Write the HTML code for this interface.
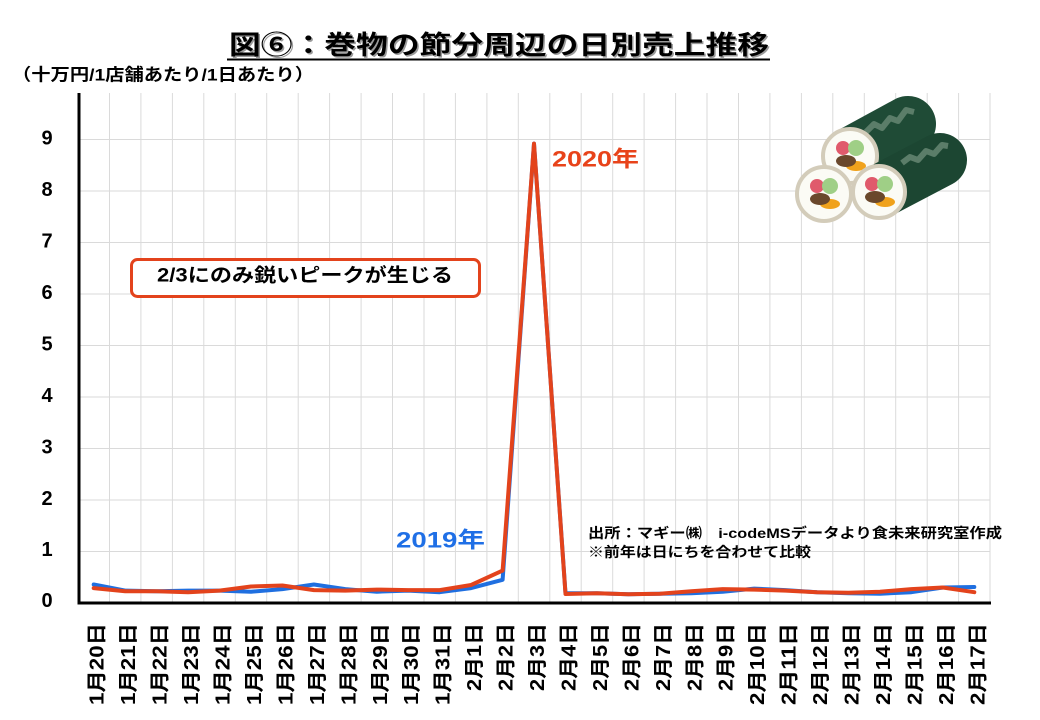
<!DOCTYPE html>
<html>
<head>
<meta charset="utf-8">
<style>
  html, body { margin:0; padding:0; background:#ffffff; }
  body { width:1040px; height:720px; overflow:hidden; }
  svg { display:block; }
  text { font-family: "Liberation Sans", "Noto Sans CJK JP", sans-serif; font-weight: bold; }
</style>
</head>
<body>
<svg width="1040" height="720" viewBox="0 0 1040 720" xmlns="http://www.w3.org/2000/svg">
  <rect x="0" y="0" width="1040" height="720" fill="#ffffff"/>

  <!-- Title -->
  <text x="230.5" y="46.5" font-size="26" fill="#9a9a9a" dominant-baseline="central" textLength="540" lengthAdjust="spacingAndGlyphs">図⑥：巻物の節分周辺の日別売上推移</text>
  <text x="229" y="45" font-size="26" fill="#000" dominant-baseline="central" textLength="540" lengthAdjust="spacingAndGlyphs">図⑥：巻物の節分周辺の日別売上推移</text>
  <line x1="227" y1="59.5" x2="770" y2="59.5" stroke="#000" stroke-width="2"/>

  <!-- Unit label -->
  <text x="12" y="75" font-size="17" fill="#000" dominant-baseline="central" textLength="302" lengthAdjust="spacingAndGlyphs">（十万円/1店舗あたり/1日あたり）</text>

  <!-- Grid -->
  <g stroke="#dadada" stroke-width="1">
    <line x1="109.5" y1="93" x2="109.5" y2="603"/>
    <line x1="140.9" y1="93" x2="140.9" y2="603"/>
    <line x1="172.4" y1="93" x2="172.4" y2="603"/>
    <line x1="203.8" y1="93" x2="203.8" y2="603"/>
    <line x1="235.3" y1="93" x2="235.3" y2="603"/>
    <line x1="266.7" y1="93" x2="266.7" y2="603"/>
    <line x1="298.2" y1="93" x2="298.2" y2="603"/>
    <line x1="329.6" y1="93" x2="329.6" y2="603"/>
    <line x1="361.1" y1="93" x2="361.1" y2="603"/>
    <line x1="392.5" y1="93" x2="392.5" y2="603"/>
    <line x1="424.0" y1="93" x2="424.0" y2="603"/>
    <line x1="455.4" y1="93" x2="455.4" y2="603"/>
    <line x1="486.9" y1="93" x2="486.9" y2="603"/>
    <line x1="518.3" y1="93" x2="518.3" y2="603"/>
    <line x1="549.8" y1="93" x2="549.8" y2="603"/>
    <line x1="581.2" y1="93" x2="581.2" y2="603"/>
    <line x1="612.7" y1="93" x2="612.7" y2="603"/>
    <line x1="644.1" y1="93" x2="644.1" y2="603"/>
    <line x1="675.6" y1="93" x2="675.6" y2="603"/>
    <line x1="707.0" y1="93" x2="707.0" y2="603"/>
    <line x1="738.5" y1="93" x2="738.5" y2="603"/>
    <line x1="769.9" y1="93" x2="769.9" y2="603"/>
    <line x1="801.4" y1="93" x2="801.4" y2="603"/>
    <line x1="832.8" y1="93" x2="832.8" y2="603"/>
    <line x1="864.3" y1="93" x2="864.3" y2="603"/>
    <line x1="895.7" y1="93" x2="895.7" y2="603"/>
    <line x1="927.2" y1="93" x2="927.2" y2="603"/>
    <line x1="958.6" y1="93" x2="958.6" y2="603"/>
    <line x1="990.0" y1="93" x2="990.0" y2="603"/>

    <line x1="78" y1="551.5" x2="990" y2="551.5"/>
    <line x1="78" y1="500" x2="990" y2="500"/>
    <line x1="78" y1="448.5" x2="990" y2="448.5"/>
    <line x1="78" y1="397" x2="990" y2="397"/>
    <line x1="78" y1="345.5" x2="990" y2="345.5"/>
    <line x1="78" y1="294" x2="990" y2="294"/>
    <line x1="78" y1="242.5" x2="990" y2="242.5"/>
    <line x1="78" y1="191" x2="990" y2="191"/>
    <line x1="78" y1="139.5" x2="990" y2="139.5"/>
  </g>

  <!-- Axes -->
  <line x1="79" y1="93" x2="79" y2="604.5" stroke="#000" stroke-width="3"/>
  <line x1="77.5" y1="603" x2="991" y2="603" stroke="#000" stroke-width="3"/>

  <!-- Y tick labels -->
  <g font-size="20" fill="#000" text-anchor="middle" dominant-baseline="central">
    <text x="47" y="601">0</text>
    <text x="47" y="550">1</text>
    <text x="47" y="499">2</text>
    <text x="47" y="447.5">3</text>
    <text x="47" y="396">4</text>
    <text x="47" y="344.5">5</text>
    <text x="47" y="293">6</text>
    <text x="47" y="241.5">7</text>
    <text x="47" y="190">8</text>
    <text x="47" y="138.5">9</text>
  </g>

  <!-- X tick labels -->
  <g font-size="20" fill="#000" text-anchor="end" dominant-baseline="central">
    <text transform="translate(97.7,623) rotate(-90)" textLength="82" lengthAdjust="spacingAndGlyphs">1月20日</text>
    <text transform="translate(129.2,623) rotate(-90)" textLength="82" lengthAdjust="spacingAndGlyphs">1月21日</text>
    <text transform="translate(160.6,623) rotate(-90)" textLength="82" lengthAdjust="spacingAndGlyphs">1月22日</text>
    <text transform="translate(192.1,623) rotate(-90)" textLength="82" lengthAdjust="spacingAndGlyphs">1月23日</text>
    <text transform="translate(223.5,623) rotate(-90)" textLength="82" lengthAdjust="spacingAndGlyphs">1月24日</text>
    <text transform="translate(255.0,623) rotate(-90)" textLength="82" lengthAdjust="spacingAndGlyphs">1月25日</text>
    <text transform="translate(286.4,623) rotate(-90)" textLength="82" lengthAdjust="spacingAndGlyphs">1月26日</text>
    <text transform="translate(317.9,623) rotate(-90)" textLength="82" lengthAdjust="spacingAndGlyphs">1月27日</text>
    <text transform="translate(349.3,623) rotate(-90)" textLength="82" lengthAdjust="spacingAndGlyphs">1月28日</text>
    <text transform="translate(380.8,623) rotate(-90)" textLength="82" lengthAdjust="spacingAndGlyphs">1月29日</text>
    <text transform="translate(412.2,623) rotate(-90)" textLength="82" lengthAdjust="spacingAndGlyphs">1月30日</text>
    <text transform="translate(443.7,623) rotate(-90)" textLength="82" lengthAdjust="spacingAndGlyphs">1月31日</text>
    <text transform="translate(475.1,623) rotate(-90)" textLength="68" lengthAdjust="spacingAndGlyphs">2月1日</text>
    <text transform="translate(506.6,623) rotate(-90)" textLength="68" lengthAdjust="spacingAndGlyphs">2月2日</text>
    <text transform="translate(538.0,623) rotate(-90)" textLength="68" lengthAdjust="spacingAndGlyphs">2月3日</text>
    <text transform="translate(569.5,623) rotate(-90)" textLength="68" lengthAdjust="spacingAndGlyphs">2月4日</text>
    <text transform="translate(600.9,623) rotate(-90)" textLength="68" lengthAdjust="spacingAndGlyphs">2月5日</text>
    <text transform="translate(632.4,623) rotate(-90)" textLength="68" lengthAdjust="spacingAndGlyphs">2月6日</text>
    <text transform="translate(663.8,623) rotate(-90)" textLength="68" lengthAdjust="spacingAndGlyphs">2月7日</text>
    <text transform="translate(695.3,623) rotate(-90)" textLength="68" lengthAdjust="spacingAndGlyphs">2月8日</text>
    <text transform="translate(726.7,623) rotate(-90)" textLength="68" lengthAdjust="spacingAndGlyphs">2月9日</text>
    <text transform="translate(758.2,623) rotate(-90)" textLength="82" lengthAdjust="spacingAndGlyphs">2月10日</text>
    <text transform="translate(789.6,623) rotate(-90)" textLength="82" lengthAdjust="spacingAndGlyphs">2月11日</text>
    <text transform="translate(821.1,623) rotate(-90)" textLength="82" lengthAdjust="spacingAndGlyphs">2月12日</text>
    <text transform="translate(852.5,623) rotate(-90)" textLength="82" lengthAdjust="spacingAndGlyphs">2月13日</text>
    <text transform="translate(884.0,623) rotate(-90)" textLength="82" lengthAdjust="spacingAndGlyphs">2月14日</text>
    <text transform="translate(915.4,623) rotate(-90)" textLength="82" lengthAdjust="spacingAndGlyphs">2月15日</text>
    <text transform="translate(946.9,623) rotate(-90)" textLength="82" lengthAdjust="spacingAndGlyphs">2月16日</text>
    <text transform="translate(978.3,623) rotate(-90)" textLength="82" lengthAdjust="spacingAndGlyphs">2月17日</text>
  </g>

  <!-- Source note -->
  <text x="588" y="533" font-size="14" fill="#000" dominant-baseline="central" textLength="414" lengthAdjust="spacingAndGlyphs">出所：マギー㈱　i-codeMSデータより食未来研究室作成</text>
  <text x="588" y="552" font-size="14" fill="#000" dominant-baseline="central" textLength="223" lengthAdjust="spacingAndGlyphs">※前年は日にちを合わせて比較</text>

  <!-- 2019 series (blue) -->
  <polyline fill="none" stroke="#1f6fe0" stroke-width="4" stroke-linejoin="round" stroke-linecap="round"
    points="93.7,584.5 125.2,590.6 156.6,591.2 188.1,590.6 219.5,590.6 251.0,591.7 282.4,589.1 313.9,584.5 345.3,589.1 376.8,591.7 408.2,590.6 439.7,592.2 471.1,588.1 502.6,579.8 534.0,143.6 565.5,593.2 596.9,593.2 628.4,594.2 659.8,593.7 691.3,593.2 722.7,591.7 754.2,588.6 785.6,590.1 817.1,592.2 848.5,593.2 880.0,593.7 911.4,592.2 942.9,587.5 974.3,587.0"/>

  <!-- 2020 series (red) -->
  <polyline fill="none" stroke="#e3431c" stroke-width="4" stroke-linejoin="round" stroke-linecap="round"
    points="93.7,588.1 125.2,591.2 156.6,591.2 188.1,592.2 219.5,590.6 251.0,586.5 282.4,585.5 313.9,590.1 345.3,590.6 376.8,589.6 408.2,590.1 439.7,590.1 471.1,585.0 502.6,570.6 534.0,143.6 565.5,594.0 596.9,593.2 628.4,594.2 659.8,593.7 691.3,591.2 722.7,589.1 754.2,589.6 785.6,590.6 817.1,592.2 848.5,592.7 880.0,591.7 911.4,589.1 942.9,587.5 974.3,592.2"/>

  <!-- Series labels -->
  <text x="552" y="159" font-size="22" fill="#e8431a" dominant-baseline="central" textLength="87" lengthAdjust="spacingAndGlyphs">2020年</text>
  <text x="396" y="540" font-size="22" fill="#1f6fe6" dominant-baseline="central" textLength="89" lengthAdjust="spacingAndGlyphs">2019年</text>

  <!-- Annotation box -->
  <rect x="131.5" y="259.5" width="348" height="37" rx="6" ry="6" fill="#ffffff" stroke="#e3431c" stroke-width="3"/>
  <text x="305" y="276" font-size="19" fill="#000" text-anchor="middle" dominant-baseline="central" textLength="296" lengthAdjust="spacingAndGlyphs">2/3にのみ鋭いピークが生じる</text>

  <!-- Sushi rolls illustration -->
  <g>
    <line x1="851" y1="155" x2="908" y2="124" stroke="#1f4b36" stroke-width="56" stroke-linecap="round"/>
    <polyline points="866,132 874,124 882,128 890,118 898,121 906,110 914,112" fill="none" stroke="#5b7d69" stroke-width="6" stroke-linejoin="round"/>
    <circle cx="850" cy="156" r="27" fill="#fbfbf5" stroke="#d3ccba" stroke-width="4"/>
    <circle cx="843" cy="148" r="7" fill="#e05a6c"/>
    <circle cx="856" cy="148" r="8" fill="#9fcf86"/>
    <ellipse cx="856" cy="166" rx="10" ry="5" fill="#f0a21c"/>
    <ellipse cx="846" cy="161" rx="10" ry="6" fill="#6a482c"/>
    <line x1="879" y1="192" x2="940" y2="160" stroke="#1c4632" stroke-width="54" stroke-linecap="round"/>
    <polyline points="902,163 910,157 918,160 926,151 934,154 942,145 948,146" fill="none" stroke="#5b7d69" stroke-width="6" stroke-linejoin="round"/>
    <circle cx="824" cy="194" r="27" fill="#fbfbf5" stroke="#d3ccba" stroke-width="4"/>
    <circle cx="817" cy="186" r="7" fill="#e05a6c"/>
    <circle cx="830" cy="186" r="8" fill="#9fcf86"/>
    <ellipse cx="830" cy="204" rx="10" ry="5" fill="#f0a21c"/>
    <ellipse cx="820" cy="199" rx="10" ry="6" fill="#6a482c"/>
    <circle cx="879" cy="192" r="26" fill="#fbfbf5" stroke="#d3ccba" stroke-width="4"/>
    <circle cx="872" cy="184" r="7" fill="#e05a6c"/>
    <circle cx="885" cy="184" r="8" fill="#9fcf86"/>
    <ellipse cx="885" cy="202" rx="10" ry="5" fill="#f0a21c"/>
    <ellipse cx="875" cy="197" rx="10" ry="6" fill="#6a482c"/>
  </g>
</svg>
</body>
</html>
